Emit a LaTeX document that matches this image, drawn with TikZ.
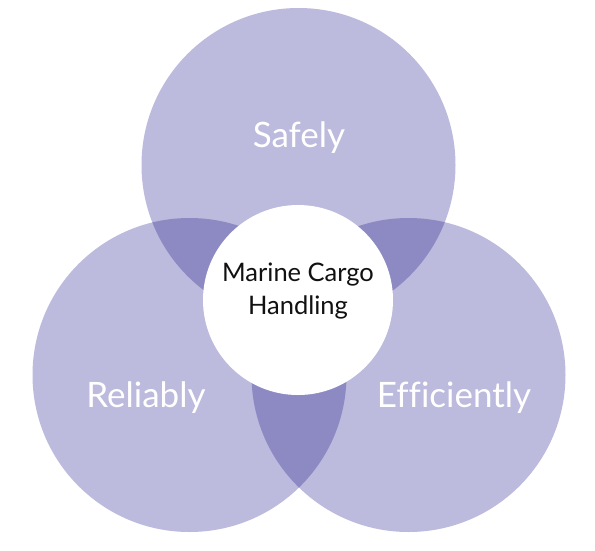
\documentclass[tikz,border=0pt]{standalone}
\usepackage{fontspec}
\setmainfont{Lato}[Ligatures=NoCommon]
\usetikzlibrary{positioning}
\definecolor{petal}{HTML}{BCBADD}
\definecolor{overlap}{HTML}{8D8AC3}
\definecolor{ink}{HTML}{111111}
\tikzset{
  ring/.style={circle, minimum size=314pt, inner sep=0pt, fill=petal},
  hub/.style={circle, minimum size=190pt, inner sep=0pt, fill=white},
  word/.style={text=white, font=\fontsize{35}{40}\selectfont},
  hubtext/.style={text=ink, align=center, font=\fontsize{25.5}{33}\selectfont},
}

\begin{document}
\begin{tikzpicture}[x=1pt, y=-1pt]
\useasboundingbox (0,0) rectangle (595,550);
% three sets
\node[ring] (safe) at (298.5,165) {};
\node[ring] (reli) at (189.5,375) {};
\node[ring] (effi) at (408.5,375) {};
% pairwise overlaps
\begin{scope}
  \clip (safe.center) circle[radius=157pt];
  \fill[overlap] (reli.center) circle[radius=157pt];
  \fill[overlap] (effi.center) circle[radius=157pt];
\end{scope}
\begin{scope}
  \clip (reli.center) circle[radius=157pt];
  \fill[overlap] (effi.center) circle[radius=157pt];
\end{scope}
% centre
\node[hub] (core) at (298,300) {};
\node[hubtext] (coretext) at (298,291) {Marine Cargo\\Handling};
% labels
\node[word] (safetext) at (299,138) {Safely};
\node[word] (relitext) at (146,398) {Reliably};
\node[word] (effitext) at (454,398) {Efficiently};
\end{tikzpicture}
\end{document}
